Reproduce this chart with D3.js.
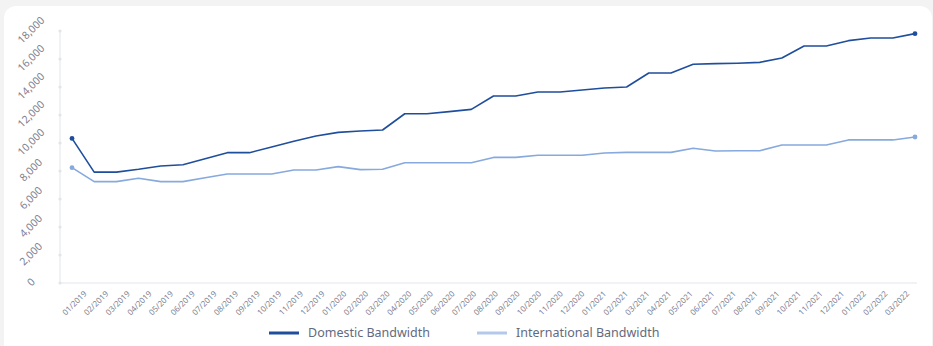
<!DOCTYPE html>
<html>
<head>
<meta charset="utf-8">
<script src="https://cdn.jsdelivr.net/npm/d3@7"></script>
<style>
  html, body { margin: 0; padding: 0; background: #f3f3f3; }
  svg { display: block; font-family: "Noto Sans", sans-serif; }
</style>
</head>
<body>
<div id="chart"></div>
<script>
var months = ['01/2019', '02/2019', '03/2019', '04/2019', '05/2019', '06/2019', '07/2019', '08/2019',
    '09/2019', '10/2019', '11/2019', '12/2019', '01/2020', '02/2020', '03/2020', '04/2020',
    '05/2020', '06/2020', '07/2020', '08/2020', '09/2020', '10/2020', '11/2020', '12/2020',
    '01/2021', '02/2021', '03/2021', '04/2021', '05/2021', '06/2021', '07/2021', '08/2021',
    '09/2021', '10/2021', '11/2021', '12/2021', '01/2022', '02/2022', '03/2022'];

var domestic = [10330, 7920, 7920, 8120, 8360, 8450, 8880, 9310, 9310, 9720, 10130, 10500,
    10760, 10860, 10930, 12090, 12090, 12240, 12400, 13360, 13360, 13640, 13640, 13790,
    13930, 14000, 15000, 15000, 15620, 15670, 15700, 15760, 16070, 16930, 16930, 17310,
    17500, 17500, 17810];

var international = [8240, 7240, 7240, 7480, 7240, 7240, 7520, 7790, 7790, 7790, 8070, 8070,
    8310, 8100, 8120, 8590, 8590, 8590, 8590, 8970, 8970, 9120, 9120, 9120,
    9290, 9330, 9330, 9330, 9620, 9430, 9450, 9450, 9860, 9860, 9860, 10220,
    10220, 10220, 10430];

var yTicks = [0, 2000, 4000, 6000, 8000, 10000, 12000, 14000, 16000, 18000];

var seriesNames = ['Domestic Bandwidth', 'International Bandwidth'];

var width = 933, height = 346;

// Settings
var colors = { line: ['#1f4e9c', '#86a9de'], legend: ['#1f4e9c', '#b3c8ea'] };
var axis_color = '#eceef3';
var label_color = '#7c8294';

var svg = d3.select('#chart').append('svg')
    .attr('width', width).attr('height', height);

// Card
svg.append('rect')
    .attr('x', 4).attr('y', 6)
    .attr('width', 928).attr('height', 352)
    .attr('rx', 12).attr('ry', 12)
    .attr('fill', '#ffffff');

var x = d3.scalePoint().domain(months).range([72, 915]);
var xLabel = d3.scalePoint().domain(months).range([74.5, 897]); // label centres drift from points
var y = d3.scaleLinear().domain([0, 18000]).range([283, 31]);

// Axis lines
svg.append('line')
    .attr('x1', 60).attr('x2', 60)
    .attr('y1', y(18000)).attr('y2', y(0))
    .attr('stroke', axis_color).attr('stroke-width', 1.5);
svg.append('line')
    .attr('x1', 60).attr('x2', 917)
    .attr('y1', y(0)).attr('y2', y(0))
    .attr('stroke', axis_color).attr('stroke-width', 1.5);

svg.selectAll('.ytick-dot')
    .data(yTicks)
    .enter().append('circle')
    .attr('cx', 60).attr('cy', function(d) { return y(d); })
    .attr('r', 1.6)
    .attr('fill', '#e2e4ea');

// Y labels, rotated around their centre
svg.selectAll('.ylabel')
    .data(yTicks)
    .enter().append('text')
    .attr('transform', function(d) { return 'translate(31,' + (y(d) - 1) + ') rotate(-45)'; })
    .attr('text-anchor', 'middle')
    .attr('dy', '0.35em')
    .style('font-size', '10.5px')
    .style('fill', label_color)
    .text(function(d) { return d3.format(',')(d); });

// X labels
svg.selectAll('.xlabel')
    .data(months)
    .enter().append('text')
    .attr('transform', function(d) { return 'translate(' + xLabel(d) + ',303) rotate(-45)'; })
    .attr('text-anchor', 'middle')
    .attr('dy', '0.35em')
    .style('font-size', '8px')
    .style('fill', label_color)
    .text(function(d) { return d; });

// Lines
var line = d3.line()
    .x(function(d, i) { return x(months[i]); })
    .y(function(d) { return y(d); });

[domestic, international].forEach(function(values, k) {
    svg.append('path')
        .datum(values)
        .attr('d', line)
        .attr('fill', 'none')
        .attr('stroke', colors.line[k])
        .attr('stroke-width', 1.6)
        .attr('stroke-linejoin', 'round');

    // Only the end points carry a dot
    var ends = [0, values.length - 1];
    svg.selectAll('.dot' + k)
        .data(ends)
        .enter().append('circle')
        .attr('cx', function(i) { return x(months[i]); })
        .attr('cy', function(i) { return y(values[i]); })
        .attr('r', 2.4)
        .attr('fill', colors.line[k]);
});

// Legend
var legend_x = [269, 477];
seriesNames.forEach(function(name, k) {
    svg.append('line')
        .attr('x1', legend_x[k]).attr('x2', legend_x[k] + 30)
        .attr('y1', 333).attr('y2', 333)
        .attr('stroke', colors.legend[k])
        .attr('stroke-width', 3);
    svg.append('text')
        .attr('x', legend_x[k] + 39).attr('y', 333)
        .attr('dy', '0.35em')
        .style('font-size', '12.5px')
        .style('fill', '#646a7b')
        .text(name);
});
</script>
</body>
</html>
